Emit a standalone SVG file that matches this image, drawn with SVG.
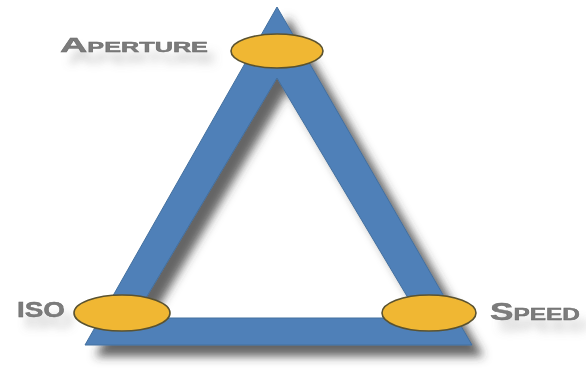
<svg xmlns="http://www.w3.org/2000/svg" width="586" height="371" viewBox="0 0 586 371">
  <defs>
    <filter id="shadow" x="-20%" y="-20%" width="150%" height="150%">
      <feGaussianBlur in="SourceAlpha" stdDeviation="5"/>
      <feOffset dx="11" dy="11" result="b"/>
      <feFlood flood-color="#333" flood-opacity="0.75"/>
      <feComposite in2="b" operator="in" result="s"/>
      <feMerge><feMergeNode in="s"/><feMergeNode in="SourceGraphic"/></feMerge>
    </filter>
    <filter id="tshadow" x="-20%" y="-60%" width="150%" height="280%">
      <feGaussianBlur in="SourceAlpha" stdDeviation="4"/>
      <feOffset dx="8" dy="11" result="b"/>
      <feFlood flood-color="#777" flood-opacity="0.35"/>
      <feComposite in2="b" operator="in" result="s"/>
      <feMerge><feMergeNode in="s"/><feMergeNode in="SourceGraphic"/></feMerge>
    </filter>
  </defs>
  <style>
    .bar { fill: #4f80b8; stroke: #44709f; stroke-width: 1; fill-rule: evenodd; }
    .node ellipse { fill: #f0b733; stroke: #5a5230; stroke-width: 1.6; }
    .label { font-family: "Liberation Sans", "DejaVu Sans", sans-serif; font-weight: bold; fill: #7c7c7c; stroke: #666; stroke-width: 0.4; }
  </style>
  <rect width="586" height="371" fill="#ffffff"/>
  <g id="connectors" filter="url(#shadow)">
    <path class="bar" d="M277,7 L472,345 L85,345 Z M277,78 L134,318 L420,318 Z"/>
  </g>
  <g id="node-aperture" class="node">
    <ellipse cx="277" cy="51" rx="46" ry="17"/>
    <text class="label" x="60" y="52" textLength="148" lengthAdjust="spacingAndGlyphs" filter="url(#tshadow)"><tspan font-size="21">A</tspan><tspan font-size="14">PERTURE</tspan></text>
  </g>
  <g id="node-iso" class="node">
    <ellipse cx="122" cy="313" rx="48" ry="18"/>
    <text class="label" x="17" y="317" font-size="22" textLength="48" lengthAdjust="spacingAndGlyphs" filter="url(#tshadow)">ISO</text>
  </g>
  <g id="node-speed" class="node">
    <ellipse cx="429" cy="313" rx="47" ry="18"/>
    <text class="label" x="490" y="320" textLength="90" lengthAdjust="spacingAndGlyphs" filter="url(#tshadow)"><tspan font-size="23">S</tspan><tspan font-size="16">PEED</tspan></text>
  </g>
</svg>
